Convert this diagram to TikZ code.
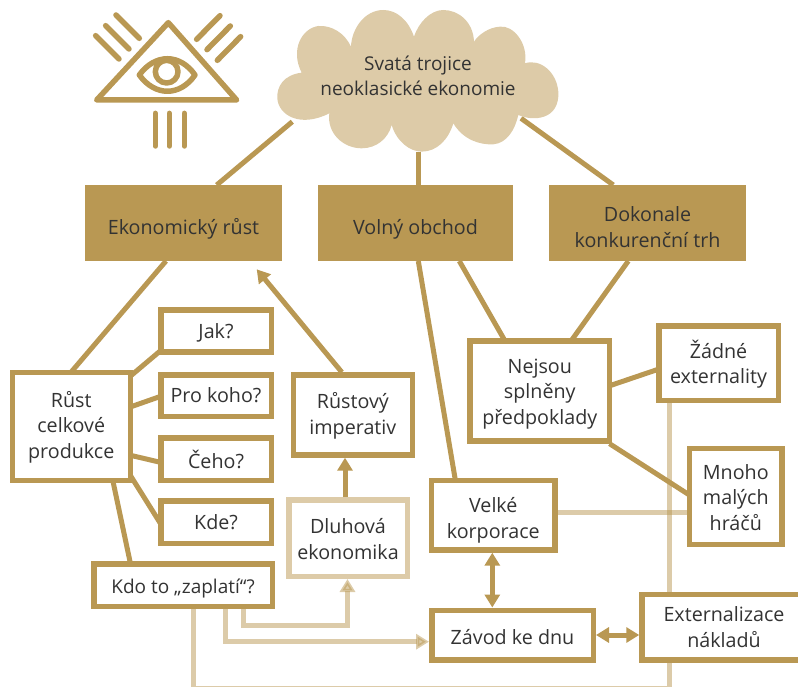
\documentclass[tikz,border=0pt]{standalone}
\usepackage{fontspec}
\setmainfont{Open Sans}
\usetikzlibrary{arrows.meta,calc,backgrounds}
\definecolor{gold}{HTML}{B99853}
\definecolor{pale}{HTML}{DDCBA8}
\definecolor{ink}{HTML}{333333}
\newcommand\dn[2]{\raisebox{0pt}[\dimexpr\height+#1*2\relax]{#2}}
\tikzset{
  every node/.style={font=\fontsize{19.7}{25.3}\selectfont,text=ink,align=center,outer sep=0pt,inner sep=0pt},
  smalltext/.style={font=\fontsize{19}{25.3}\selectfont},
  whitebox/.style={draw=gold,line width=5.5pt,fill=white},
  palebox/.style={draw=pale,line width=5.5pt,fill=white},
  goldbox/.style={fill=gold},
  link/.style={draw=gold,line width=5pt},
  softlink/.style={draw=gold,opacity=.5,line width=5pt},
  softarrow/.style={softlink,-{Triangle[length=13pt,width=15pt,fill=gold]}},
  arrowlink/.style={link,-{Triangle[length=13pt,width=15pt,fill=gold]}},
  bothlink/.style={link,{Triangle[length=13pt,width=15pt,fill=gold]}-{Triangle[length=13pt,width=15pt,fill=gold]}},
  icon/.style={draw=gold,line width=5.5pt,line cap=round,line join=round},
}
\begin{document}
\begin{tikzpicture}[x=1pt,y=-1pt]
\useasboundingbox (0,0) rectangle (798,687);
% icon
\begin{scope}[shift={(60pt,0pt)},x=.3333pt,y=-.3333pt]
\draw[icon] (325,68) -- (110,300) -- (530,300) -- cycle;
\draw[icon] (238,225) .. controls (285,160) and (360,160) .. (405,225) .. controls (360,290) and (285,290) .. cycle;
\draw[icon] (320,215) circle (34);
\foreach \a/\b/\c/\d in {168/45/238/115,137/77/207/147,107/107/177/177,480/47/410/118,511/78/441/149,542/110/472/181,286/340/286/438,328/340/328/438,373/340/373/438}
  \draw[icon] (\a,\b) -- (\c,\d);
\end{scope}
% cloud
\begin{scope}[shift={(270pt,0pt)},x=.3333pt,y=-.3333pt]
\fill[pale] (95,218)
  .. controls (40,225) and (20,260) .. (22,295)
  .. controls (25,345) and (90,385) .. (178,340)
  .. controls (170,400) and (220,445) .. (275,445)
  .. controls (320,445) and (355,415) .. (365,375)
  .. controls (380,425) and (420,455) .. (455,455)
  .. controls (500,455) and (535,420) .. (550,370)
  .. controls (580,420) and (630,435) .. (670,433)
  .. controls (710,430) and (735,390) .. (745,345)
  .. controls (790,365) and (870,360) .. (865,275)
  .. controls (860,215) and (810,175) .. (765,190)
  .. controls (775,130) and (730,75) .. (690,80)
  .. controls (655,82) and (625,105) .. (612,125)
  .. controls (610,65) and (565,30) .. (520,30)
  .. controls (480,30) and (445,70) .. (432,110)
  .. controls (415,60) and (380,30) .. (340,30)
  .. controls (285,30) and (245,85) .. (243,140)
  .. controls (225,100) and (185,75) .. (145,78)
  .. controls (95,85) and (60,150) .. (95,218) -- cycle;
\end{scope}
\node[smalltext] (cloud) at (418,76) [minimum width=240pt,minimum height=120pt] {Svatá trojice\\neoklasické ekonomie};
% boxes
\node[goldbox,minimum width=197pt,minimum height=76pt] (ek) at (183.5,223) {\dn{6pt}{Ekonomický růst}};
\node[goldbox,minimum width=195pt,minimum height=76pt] (vo) at (415.5,223) {\dn{6.5pt}{Volný obchod}};
\node[goldbox,minimum width=197pt,minimum height=76pt] (do) at (647.5,223) {\dn{4pt}{Dokonale}\\konkurenční trh};
\node[whitebox,minimum width=118pt,minimum height=108pt] (ru) at (71.25,426.25) {\dn{1pt}{Růst}\\celkové\\produkce};
\node[whitebox,minimum width=110.5pt,minimum height=42pt] (ja) at (216,331) {\dn{2pt}{Jak?}};
\node[whitebox,minimum width=110.5pt,minimum height=41.5pt] (pr) at (216,395.5) {Pro koho?};
\node[whitebox,minimum width=110.5pt,minimum height=42.5pt] (ce) at (216,459) {Čeho?};
\node[whitebox,minimum width=110.5pt,minimum height=42.5pt] (kd) at (216,522) {Kde?};
\node[whitebox,smalltext,minimum width=178.5pt,minimum height=42.8pt] (kt) at (183,585.2) {\dn{3pt}{Kdo to „zaplatí“?}};
\node[whitebox,minimum width=118.8pt,minimum height=80.2pt] (im) at (352.85,414.85) {\dn{1pt}{Růstový}\\imperativ};
\node[palebox,minimum width=118.5pt,minimum height=76.5pt] (dl) at (348,538) {\dn{1pt}{Dluhová}\\ekonomika};
\node[whitebox,minimum width=123.2pt,minimum height=69.5pt] (ve) at (493.3,515.2) {\dn{5pt}{Velké}\\korporace};
\node[whitebox,minimum width=161.5pt,minimum height=49.5pt] (za) at (512.5,635) {\dn{2pt}{Závod ke dnu}};
\node[whitebox,minimum width=164pt,minimum height=65.5pt] (ex) at (724,627.2) {Externalizace\\nákladů};
\node[whitebox,minimum width=139.5pt,minimum height=100pt] (ne) at (539.8,391) {\dn{3pt}{Nejsou}\\splněny\\předpoklady};
\node[whitebox,minimum width=119.5pt,minimum height=74.5pt] (zd) at (718.5,363.3) {\dn{1pt}{Žádné}\\externality};
\node[whitebox,minimum width=92.8pt,minimum height=96pt] (mn) at (735.8,496.5) {\dn{1pt}{Mnoho}\\malých\\hráčů};
% connectors
\begin{scope}[on background layer]
\draw[link] ($(cloud.west)+(-5.7,45.7)$) -- ($(ek.north west)+(131.7,0)$);
\draw[link] ($(cloud.south)+(0.3,16)$) -- ($(vo.north west)+(100.3,0)$);
\draw[link] ($(cloud.east)+(-17,42.3)$) -- ($(do.north west)+(64.3,0)$);
\draw[link] ($(ek.south west)+(81,0)$) -- ($(ru.north west)+(58.75,0)$);
\draw[link] ($(ru.north east)+(0,4)$) -- ($(ja.south west)+(0,-1.5)$);
\draw[link] ($(ru.north east)+(0,34.75)$) -- ($(pr.west)+(0,0.8)$);
\draw[link] ($(ru.north east)+(0,83)$) -- ($(ce.west)+(0,3.4)$);
\draw[link] ($(ru.south east)+(0,-5)$) -- ($(kd.west)+(0,2)$);
\draw[link] ($(ru.south west)+(100.5,0)$) -- ($(kt.north west)+(36.75,0)$);
\draw[link] ($(vo.south west)+(100.3,0)$) -- ($(ve.north west)+(23.7,0)$);
\draw[link] ($(vo.south west)+(141.3,0)$) -- ($(ne.north west)+(35,0)$);
\draw[link] ($(do.south west)+(79.3,0)$) -- ($(ne.north east)+(-38.5,0)$);
\draw[link] ($(ne.east)+(0,-5.2)$) -- ($(zd.west)+(0,5.8)$);
\draw[link] ($(ne.south east)+(0,2.7)$) -- ($(mn.west)+(0,-1.5)$);
\draw[softlink] ($(ve.east)+(2.75,-3.2)$) -- ($(mn.west |- ve.east)+(-2.75,-3.2)$);
\draw[softlink] ($(ex.north west)+(27.3,-2.75)$) -- ($(zd.south west)+(10.55,2.75)$);
\end{scope}
\draw[softarrow] ($(kt.south west)+(149.5,2.75)$) |- ++(0,16) -| ($(dl.south west)+(58.75,2.75)$);
\draw[softarrow] ($(kt.south west)+(132,2.75)$) |- ($(za.west)+(-2.75,6.7)$);
\begin{scope}[on background layer]
\draw[softlink] ($(kt.south west)+(99.5,2.75)$) -- ++(0,79) -| ($(ex.south west)+(27.3,2.75)$);
\end{scope}
\draw[arrowlink] ($(im.north)+(-11,-2.5)$) -- ($(ek.south west)+(171.7,8.3)$);
\draw[arrowlink] ($(dl.north)+(-3,-2.75)$) -- ($(im.south)+(-7.85,2.75)$);
\draw[bothlink] ($(ve.south)+(-1,2.75)$) -- ($(za.north west)+(60.55,-2.75)$);
\draw[bothlink] ($(za.east)+(2.75,0)$) -- ($(ex.west)+(-2.75,7.8)$);
\end{tikzpicture}
\end{document}
